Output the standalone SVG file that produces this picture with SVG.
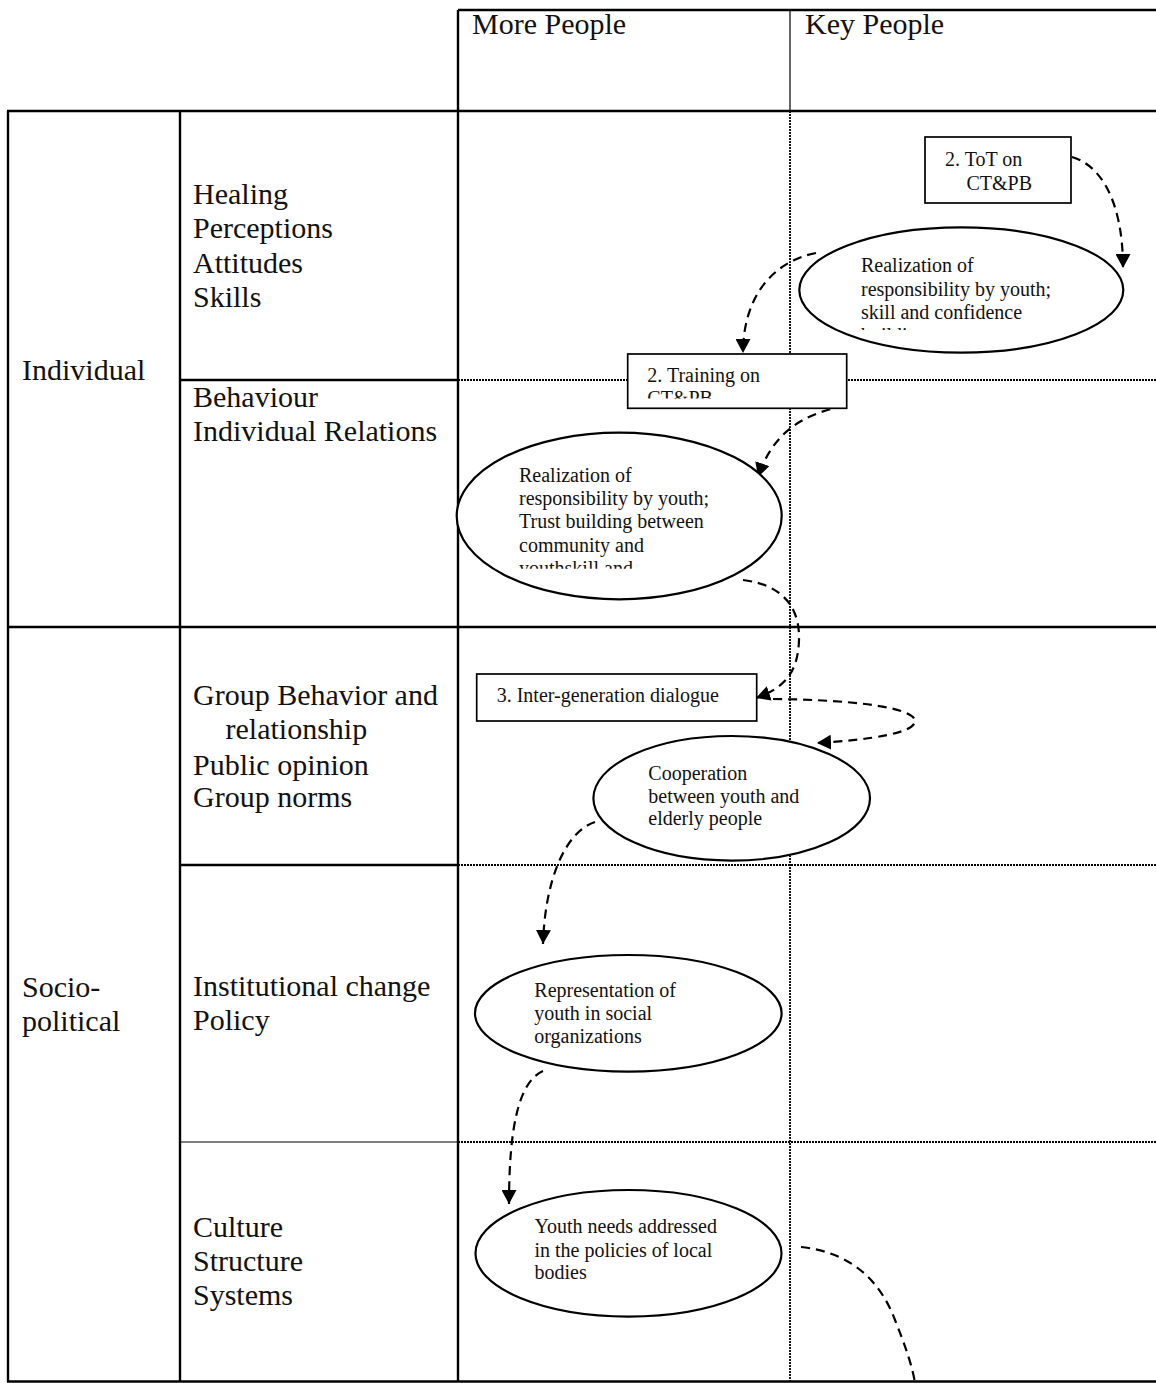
<svg xmlns="http://www.w3.org/2000/svg" width="1156" height="1383" viewBox="0 0 1156 1383">
  <style>
    .lbl { font-family: "Liberation Serif", "Times New Roman", serif; font-size: 30px; fill: #111; }
    .nt { font-family: "Liberation Serif", "Times New Roman", serif; font-size: 20px; fill: #111; }
    .solid { stroke: #000; stroke-width: 2.4; fill: none; }
    .thin { stroke: #000; stroke-width: 1.2; fill: none; }
    .dot { stroke: #000; stroke-width: 1.8; stroke-dasharray: 2 1; fill: none; }
    .box { fill: #fff; stroke: #000; stroke-width: 1.7; }
    .oval { fill: #fff; stroke: #000; stroke-width: 2.2; }
    .flow { fill: none; stroke: #000; stroke-width: 2.2; stroke-dasharray: 9 6; }
  </style>
  <defs>
    <marker id="head" markerUnits="userSpaceOnUse" markerWidth="15" markerHeight="15" refX="14" refY="7.5" orient="auto">
      <path d="M0,0 L14,7.5 L0,15 Z" fill="#000"/>
    </marker>
    <clipPath id="clipOval1"><rect x="800" y="240" width="320" height="90"/></clipPath>
    <clipPath id="clipTrain"><rect x="630" y="356" width="215" height="42.5"/></clipPath>
    <clipPath id="clipOval2"><rect x="460" y="440" width="320" height="128.7"/></clipPath>
  </defs>

  <rect width="1156" height="1383" fill="#fff"/>

  <!-- table grid -->
  <g id="grid">
    <!-- header -->
    <line class="solid" x1="458" y1="10" x2="1156" y2="10"/>
    <line class="solid" x1="458" y1="10" x2="458" y2="111"/>
    <line class="thin" x1="790" y1="10" x2="790" y2="111"/>
    <!-- outer frame and columns -->
    <line class="solid" x1="7" y1="111" x2="1156" y2="111"/>
    <line class="solid" x1="8" y1="111" x2="8" y2="1382"/>
    <line class="solid" x1="180" y1="111" x2="180" y2="1382"/>
    <line class="solid" x1="458" y1="111" x2="458" y2="1382"/>
    <line class="dot" x1="790" y1="111" x2="790" y2="1382"/>
    <line class="solid" x1="7" y1="1381.5" x2="1156" y2="1381.5"/>
    <!-- rows -->
    <line class="solid" x1="180" y1="380" x2="458" y2="380"/>
    <line class="dot" x1="458" y1="380" x2="1156" y2="380"/>
    <line class="solid" x1="7" y1="627" x2="1156" y2="627"/>
    <line class="solid" x1="180" y1="865" x2="458" y2="865"/>
    <line class="dot" x1="458" y1="865" x2="1156" y2="865"/>
    <line class="thin" x1="180" y1="1142" x2="458" y2="1142"/>
    <line class="dot" x1="458" y1="1142" x2="1156" y2="1142"/>
  </g>

  <!-- row and column labels -->
  <g id="labels">
    <text class="lbl" x="472" y="34">More People</text>
    <text class="lbl" x="805" y="34">Key People</text>
    <text class="lbl" x="22" y="380">Individual</text>
    <text class="lbl" x="193" y="204">Healing</text>
    <text class="lbl" x="193" y="238">Perceptions</text>
    <text class="lbl" x="193" y="272.5">Attitudes</text>
    <text class="lbl" x="193" y="306.5">Skills</text>
    <text class="lbl" x="193" y="406.5">Behaviour</text>
    <text class="lbl" x="193" y="441">Individual Relations</text>
    <text class="lbl" x="22" y="997">Socio-</text>
    <text class="lbl" x="22" y="1031">political</text>
    <text class="lbl" x="193" y="705">Group Behavior and</text>
    <text class="lbl" x="225.5" y="739">relationship</text>
    <text class="lbl" x="193" y="774.5">Public opinion</text>
    <text class="lbl" x="193" y="807">Group norms</text>
    <text class="lbl" x="193" y="996">Institutional change</text>
    <text class="lbl" x="193" y="1030">Policy</text>
    <text class="lbl" x="193" y="1237">Culture</text>
    <text class="lbl" x="193" y="1271">Structure</text>
    <text class="lbl" x="193" y="1305">Systems</text>
  </g>

  <!-- connectors -->
  <g id="connectors">
    <path class="flow" d="M1072,157 C1100,165 1123,200 1123,268" marker-end="url(#head)"/>
    <path class="flow" d="M816,253 C770,262 743,300 743,353" marker-end="url(#head)"/>
    <path class="flow" d="M845,406 C800,414 772,435 758,477" marker-end="url(#head)"/>
    <path class="flow" d="M743,580 C785,585 800,610 799,640 C798,672 785,688 756,698" marker-end="url(#head)"/>
    <path class="flow" d="M773,699 C870,700 915,710 915,721 C915,733 870,740 817,743" marker-end="url(#head)"/>
    <path class="flow" d="M595,822 C565,832 545,880 543,944" marker-end="url(#head)"/>
    <path class="flow" d="M543,1071 C518,1082 509,1130 509,1204" marker-end="url(#head)"/>
    <path class="flow" d="M801,1247 C850,1252 880,1280 895,1320 C905,1345 912,1365 915,1383"/>
  </g>

  <!-- nodes -->
  <g id="tot-box">
    <rect class="box" x="925" y="137" width="146" height="66"/>
    <text class="nt" x="945" y="166">2. ToT on</text>
    <text class="nt" x="966.5" y="189.5">CT&amp;PB</text>
  </g>

  <g id="oval-realization-skill">
    <ellipse class="oval" cx="961.3" cy="290" rx="162" ry="62.7"/>
    <g clip-path="url(#clipOval1)">
      <text class="nt" x="861" y="272">Realization of</text>
      <text class="nt" x="861" y="295.5">responsibility by youth;</text>
      <text class="nt" x="861" y="318.5">skill and confidence</text>
      <text class="nt" x="861" y="341.5">building</text>
    </g>
  </g>

  <g id="training-box">
    <rect class="box" x="627.7" y="354" width="219" height="54.3"/>
    <g clip-path="url(#clipTrain)">
      <text class="nt" x="647.3" y="381.7">2. Training on</text>
      <text class="nt" x="647.3" y="405">CT&amp;PB</text>
    </g>
  </g>

  <g id="oval-realization-trust">
    <ellipse class="oval" cx="619.2" cy="516" rx="162.5" ry="83.3"/>
    <g clip-path="url(#clipOval2)">
      <text class="nt" x="519" y="481.7">Realization of</text>
      <text class="nt" x="519" y="505">responsibility by youth;</text>
      <text class="nt" x="519" y="528.3">Trust building between</text>
      <text class="nt" x="519" y="551.7">community and</text>
      <text class="nt" x="519" y="575">youthskill and</text>
    </g>
  </g>

  <g id="dialogue-box">
    <rect class="box" x="476.7" y="674" width="280" height="47"/>
    <text class="nt" x="496.7" y="701.7">3. Inter-generation dialogue</text>
  </g>

  <g id="oval-cooperation">
    <ellipse class="oval" cx="731.7" cy="798.3" rx="138.3" ry="62.3"/>
    <text class="nt" x="648.3" y="780">Cooperation</text>
    <text class="nt" x="648.3" y="802.7">between youth and</text>
    <text class="nt" x="648.3" y="825">elderly people</text>
  </g>

  <g id="oval-representation">
    <ellipse class="oval" cx="628.3" cy="1013.3" rx="153.3" ry="58.3"/>
    <text class="nt" x="534.3" y="996.7">Representation of</text>
    <text class="nt" x="534.3" y="1020">youth in social</text>
    <text class="nt" x="534.3" y="1042.7">organizations</text>
  </g>

  <g id="oval-youth-needs">
    <ellipse class="oval" cx="628.5" cy="1253.3" rx="153" ry="63.3"/>
    <text class="nt" x="534.5" y="1233.3">Youth needs addressed</text>
    <text class="nt" x="534.5" y="1256.7">in the policies of local</text>
    <text class="nt" x="534.5" y="1279">bodies</text>
  </g>
</svg>
